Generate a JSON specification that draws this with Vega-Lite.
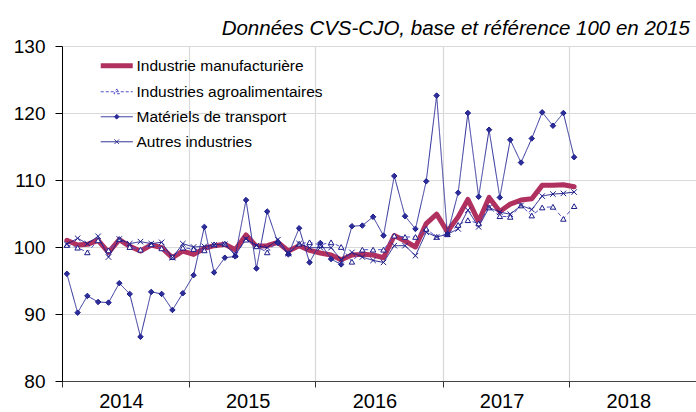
{
"$schema": "https://vega.github.io/schema/vega-lite/v6.json",
"width": 634, "height": 335,
"autosize": {"type": "none"},
"padding": {"left": 62, "top": 46, "right": 0, "bottom": 31},
"background": "white",
"config": {"view": {"stroke": null}, "axis": {"domainWidth": 1, "gridWidth": 1.2, "tickWidth": 1}},
"title": {"text": "Données CVS-CJO, base et référence 100 en 2015", "anchor": "end", "font": "Liberation Sans", "fontSize": 20.5, "fontStyle": "italic", "fontWeight": "normal", "color": "black", "offset": 6, "dx": -6, "dy": 24, "baseline": "alphabetic"},
"data": {"values": [
{"d":"2014-01-15","s":"M","v":101.0},{"d":"2014-01-15","s":"A","v":100.3},{"d":"2014-01-15","s":"T","v":96.0},{"d":"2014-01-15","s":"X","v":100.4},
{"d":"2014-02-15","s":"M","v":100.3},{"d":"2014-02-15","s":"A","v":99.9},{"d":"2014-02-15","s":"T","v":90.2},{"d":"2014-02-15","s":"X","v":101.3},
{"d":"2014-03-15","s":"M","v":100.4},{"d":"2014-03-15","s":"A","v":99.2},{"d":"2014-03-15","s":"T","v":92.7},{"d":"2014-03-15","s":"X","v":100.5},
{"d":"2014-04-15","s":"M","v":101.0},{"d":"2014-04-15","s":"A","v":101.0},{"d":"2014-04-15","s":"T","v":91.8},{"d":"2014-04-15","s":"X","v":101.6},
{"d":"2014-05-15","s":"M","v":99.2},{"d":"2014-05-15","s":"A","v":99.5},{"d":"2014-05-15","s":"T","v":91.7},{"d":"2014-05-15","s":"X","v":98.5},
{"d":"2014-06-15","s":"M","v":101.1},{"d":"2014-06-15","s":"A","v":101.2},{"d":"2014-06-15","s":"T","v":94.6},{"d":"2014-06-15","s":"X","v":101.2},
{"d":"2014-07-15","s":"M","v":100.1},{"d":"2014-07-15","s":"A","v":100.0},{"d":"2014-07-15","s":"T","v":93.0},{"d":"2014-07-15","s":"X","v":100.5},
{"d":"2014-08-15","s":"M","v":99.4},{"d":"2014-08-15","s":"A","v":99.6},{"d":"2014-08-15","s":"T","v":86.6},{"d":"2014-08-15","s":"X","v":100.8},
{"d":"2014-09-15","s":"M","v":100.3},{"d":"2014-09-15","s":"A","v":100.4},{"d":"2014-09-15","s":"T","v":93.3},{"d":"2014-09-15","s":"X","v":100.5},
{"d":"2014-10-15","s":"M","v":99.9},{"d":"2014-10-15","s":"A","v":99.8},{"d":"2014-10-15","s":"T","v":93.0},{"d":"2014-10-15","s":"X","v":100.7},
{"d":"2014-11-15","s":"M","v":98.4},{"d":"2014-11-15","s":"A","v":98.5},{"d":"2014-11-15","s":"T","v":90.6},{"d":"2014-11-15","s":"X","v":98.4},
{"d":"2014-12-15","s":"M","v":99.4},{"d":"2014-12-15","s":"A","v":99.9},{"d":"2014-12-15","s":"T","v":93.1},{"d":"2014-12-15","s":"X","v":100.5},
{"d":"2015-01-15","s":"M","v":98.9},{"d":"2015-01-15","s":"A","v":99.7},{"d":"2015-01-15","s":"T","v":95.8},{"d":"2015-01-15","s":"X","v":100.0},
{"d":"2015-02-15","s":"M","v":99.8},{"d":"2015-02-15","s":"A","v":99.5},{"d":"2015-02-15","s":"T","v":103.0},{"d":"2015-02-15","s":"X","v":100.1},
{"d":"2015-03-15","s":"M","v":100.2},{"d":"2015-03-15","s":"A","v":100.4},{"d":"2015-03-15","s":"T","v":96.2},{"d":"2015-03-15","s":"X","v":100.3},
{"d":"2015-04-15","s":"M","v":100.4},{"d":"2015-04-15","s":"A","v":100.5},{"d":"2015-04-15","s":"T","v":98.4},{"d":"2015-04-15","s":"X","v":100.4},
{"d":"2015-05-15","s":"M","v":99.6},{"d":"2015-05-15","s":"A","v":98.9},{"d":"2015-05-15","s":"T","v":98.6},{"d":"2015-05-15","s":"X","v":98.8},
{"d":"2015-06-15","s":"M","v":101.8},{"d":"2015-06-15","s":"A","v":101.1},{"d":"2015-06-15","s":"T","v":107.0},{"d":"2015-06-15","s":"X","v":101.2},
{"d":"2015-07-15","s":"M","v":100.1},{"d":"2015-07-15","s":"A","v":100.1},{"d":"2015-07-15","s":"T","v":96.8},{"d":"2015-07-15","s":"X","v":100.2},
{"d":"2015-08-15","s":"M","v":100.2},{"d":"2015-08-15","s":"A","v":99.2},{"d":"2015-08-15","s":"T","v":105.3},{"d":"2015-08-15","s":"X","v":99.9},
{"d":"2015-09-15","s":"M","v":100.7},{"d":"2015-09-15","s":"A","v":100.9},{"d":"2015-09-15","s":"T","v":100.6},{"d":"2015-09-15","s":"X","v":101.1},
{"d":"2015-10-15","s":"M","v":99.4},{"d":"2015-10-15","s":"A","v":99.1},{"d":"2015-10-15","s":"T","v":98.9},{"d":"2015-10-15","s":"X","v":99.0},
{"d":"2015-11-15","s":"M","v":100.2},{"d":"2015-11-15","s":"A","v":100.5},{"d":"2015-11-15","s":"T","v":102.8},{"d":"2015-11-15","s":"X","v":100.5},
{"d":"2015-12-15","s":"M","v":99.5},{"d":"2015-12-15","s":"A","v":100.7},{"d":"2015-12-15","s":"T","v":97.7},{"d":"2015-12-15","s":"X","v":99.9},
{"d":"2016-01-15","s":"M","v":99.1},{"d":"2016-01-15","s":"A","v":100.3},{"d":"2016-01-15","s":"T","v":100.6},{"d":"2016-01-15","s":"X","v":99.9},
{"d":"2016-02-15","s":"M","v":98.8},{"d":"2016-02-15","s":"A","v":100.7},{"d":"2016-02-15","s":"T","v":98.2},{"d":"2016-02-15","s":"X","v":99.9},
{"d":"2016-03-15","s":"M","v":98.1},{"d":"2016-03-15","s":"A","v":100.0},{"d":"2016-03-15","s":"T","v":97.4},{"d":"2016-03-15","s":"X","v":98.1},
{"d":"2016-04-15","s":"M","v":98.8},{"d":"2016-04-15","s":"A","v":97.8},{"d":"2016-04-15","s":"T","v":103.1},{"d":"2016-04-15","s":"X","v":99.2},
{"d":"2016-05-15","s":"M","v":98.9},{"d":"2016-05-15","s":"A","v":99.6},{"d":"2016-05-15","s":"T","v":103.2},{"d":"2016-05-15","s":"X","v":98.5},
{"d":"2016-06-15","s":"M","v":98.8},{"d":"2016-06-15","s":"A","v":99.6},{"d":"2016-06-15","s":"T","v":104.5},{"d":"2016-06-15","s":"X","v":98.0},
{"d":"2016-07-15","s":"M","v":98.4},{"d":"2016-07-15","s":"A","v":99.6},{"d":"2016-07-15","s":"T","v":101.7},{"d":"2016-07-15","s":"X","v":97.7},
{"d":"2016-08-15","s":"M","v":101.7},{"d":"2016-08-15","s":"A","v":101.7},{"d":"2016-08-15","s":"T","v":110.6},{"d":"2016-08-15","s":"X","v":100.2},
{"d":"2016-09-15","s":"M","v":100.9},{"d":"2016-09-15","s":"A","v":101.5},{"d":"2016-09-15","s":"T","v":104.6},{"d":"2016-09-15","s":"X","v":100.2},
{"d":"2016-10-15","s":"M","v":100.0},{"d":"2016-10-15","s":"A","v":101.5},{"d":"2016-10-15","s":"T","v":102.7},{"d":"2016-10-15","s":"X","v":98.7},
{"d":"2016-11-15","s":"M","v":103.5},{"d":"2016-11-15","s":"A","v":102.7},{"d":"2016-11-15","s":"T","v":109.8},{"d":"2016-11-15","s":"X","v":102.2},
{"d":"2016-12-15","s":"M","v":104.9},{"d":"2016-12-15","s":"A","v":101.5},{"d":"2016-12-15","s":"T","v":122.6},{"d":"2016-12-15","s":"X","v":101.5},
{"d":"2017-01-15","s":"M","v":102.3},{"d":"2017-01-15","s":"A","v":101.9},{"d":"2017-01-15","s":"T","v":101.9},{"d":"2017-01-15","s":"X","v":101.9},
{"d":"2017-02-15","s":"M","v":104.5},{"d":"2017-02-15","s":"A","v":103.3},{"d":"2017-02-15","s":"T","v":108.1},{"d":"2017-02-15","s":"X","v":102.7},
{"d":"2017-03-15","s":"M","v":107.1},{"d":"2017-03-15","s":"A","v":104.0},{"d":"2017-03-15","s":"T","v":120.0},{"d":"2017-03-15","s":"X","v":105.5},
{"d":"2017-04-15","s":"M","v":103.8},{"d":"2017-04-15","s":"A","v":103.5},{"d":"2017-04-15","s":"T","v":107.5},{"d":"2017-04-15","s":"X","v":103.0},
{"d":"2017-05-15","s":"M","v":107.4},{"d":"2017-05-15","s":"A","v":105.9},{"d":"2017-05-15","s":"T","v":117.5},{"d":"2017-05-15","s":"X","v":105.9},
{"d":"2017-06-15","s":"M","v":105.3},{"d":"2017-06-15","s":"A","v":104.6},{"d":"2017-06-15","s":"T","v":107.4},{"d":"2017-06-15","s":"X","v":105.2},
{"d":"2017-07-15","s":"M","v":106.4},{"d":"2017-07-15","s":"A","v":104.5},{"d":"2017-07-15","s":"T","v":116.0},{"d":"2017-07-15","s":"X","v":104.9},
{"d":"2017-08-15","s":"M","v":107.0},{"d":"2017-08-15","s":"A","v":106.2},{"d":"2017-08-15","s":"T","v":112.6},{"d":"2017-08-15","s":"X","v":106.2},
{"d":"2017-09-15","s":"M","v":107.2},{"d":"2017-09-15","s":"A","v":104.7},{"d":"2017-09-15","s":"T","v":116.2},{"d":"2017-09-15","s":"X","v":105.6},
{"d":"2017-10-15","s":"M","v":109.2},{"d":"2017-10-15","s":"A","v":105.9},{"d":"2017-10-15","s":"T","v":120.1},{"d":"2017-10-15","s":"X","v":107.6},
{"d":"2017-11-15","s":"M","v":109.2},{"d":"2017-11-15","s":"A","v":106.0},{"d":"2017-11-15","s":"T","v":118.1},{"d":"2017-11-15","s":"X","v":107.9},
{"d":"2017-12-15","s":"M","v":109.3},{"d":"2017-12-15","s":"A","v":104.2},{"d":"2017-12-15","s":"T","v":120.0},{"d":"2017-12-15","s":"X","v":108.0},
{"d":"2018-01-15","s":"M","v":109.0},{"d":"2018-01-15","s":"A","v":106.1},{"d":"2018-01-15","s":"T","v":113.4},{"d":"2018-01-15","s":"X","v":108.2}
]},
"encoding": {
  "x": {"field": "d", "type": "temporal",
    "scale": {"type": "utc", "domain": [{"year": 2014, "month": 1, "date": 1, "utc": true}, {"year": 2019, "month": 1, "date": 1, "utc": true}]},
    "axis": {"values": [{"year": 2014, "month": 1, "date": 1, "utc": true}, {"year": 2015, "month": 1, "date": 1, "utc": true}, {"year": 2016, "month": 1, "date": 1, "utc": true}, {"year": 2017, "month": 1, "date": 1, "utc": true}, {"year": 2018, "month": 1, "date": 1, "utc": true}],
      "format": "%Y", "labelOffset": 59, "labelFont": "Liberation Sans", "labelFontSize": 20, "labelColor": "black",
      "tickSize": 6, "tickColor": "#333333", "domainColor": "#444444", "labelPadding": 4,
      "grid": true, "gridColor": "#d9d9d9", "title": null, "labelFlush": false, "labelOverlap": false, "labelBound": false}},
  "y": {"field": "v", "type": "quantitative",
    "scale": {"domain": [80, 130], "nice": false, "zero": false},
    "axis": {"values": [80, 90, 100, 110, 120, 130], "labelFont": "Liberation Sans", "labelFontSize": 19, "labelColor": "black",
      "tickSize": 7, "tickColor": "black", "domainColor": "black", "labelPadding": 10, "grid": true, "gridColor": "#d9d9d9", "title": null}}
},
"layer": [
  {"transform": [{"filter": "datum.s === 'M'"}],
   "mark": {"type": "line", "strokeWidth": 5, "strokeJoin": "round", "strokeCap": "round"},
   "encoding": {"color": {"field": "s", "type": "nominal",
     "scale": {"domain": ["M", "A", "T", "X"], "range": ["#B0305F", "#5050C8", "#2E2E9A", "#1C1C8A"]},
     "legend": {"orient": "none", "legendX": 39, "legendY": 12, "title": null, "padding": 0,
       "labelExpr": "datum.value === 'M' ? 'Industrie manufacturière' : datum.value === 'A' ? 'Industries agroalimentaires' : datum.value === 'T' ? 'Matériels de transport' : 'Autres industries'",
       "labelFont": "Liberation Sans", "labelFontSize": 15.5, "labelColor": "black", "labelLimit": 400, "symbolSize": 256, "labelOffset": 20, "rowPadding": 8,
       "encode": {"symbols": {"update": {
         "shape": {"signal": "datum.value === 'M' ? 'M-1,0H3' : datum.value === 'A' ? 'M-1,0H3M1,-0.35L1.35,0.25L0.65,0.25Z' : datum.value === 'T' ? 'M-1,0H3M1,-0.3L1.3,0L1,0.3L0.7,0Z' : 'M-1,0H3M0.72,-0.28L1.28,0.28M1.28,-0.28L0.72,0.28'"},
         "strokeWidth": {"signal": "datum.value === 'M' ? 5 : 1"},
         "strokeDash": {"signal": "datum.value === 'A' ? [3,2] : [1,0]"},
         "fill": {"signal": "datum.value === 'T' ? '#2E2E9A' : datum.value === 'A' ? '#ffffff' : 'transparent'"},
         "opacity": {"value": 1}
       }}}}}}},
  {"transform": [{"filter": "datum.s !== 'M'"}],
   "mark": {"type": "line", "strokeWidth": 1},
   "encoding": {"color": {"field": "s", "type": "nominal"},
     "strokeDash": {"field": "s", "type": "nominal", "scale": {"domain": ["A", "T", "X"], "range": [[4, 3], [1, 0], [1, 0]]}, "legend": null}}},
  {"transform": [{"filter": "datum.s !== 'M'"}],
   "mark": {"type": "point", "strokeWidth": 1, "opacity": 1, "stroke": "#1C1C8A"},
   "encoding": {
     "shape": {"field": "s", "type": "nominal", "scale": {"domain": ["A", "T", "X"], "range": ["triangle-up", "diamond", "M-1,-1L1,1M1,-1L-1,1"]}, "legend": null},
     "fill": {"field": "s", "type": "nominal", "scale": {"domain": ["A", "T", "X"], "range": ["#ffffff", "#2E2E9A", "transparent"]}, "legend": null},
     "size": {"value": 30}}}
]
}
